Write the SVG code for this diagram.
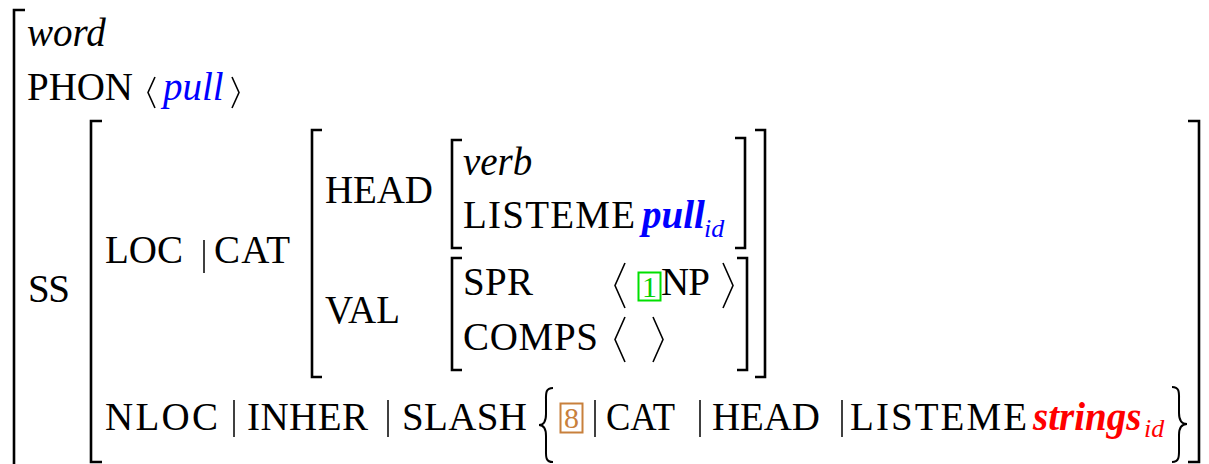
<svg xmlns="http://www.w3.org/2000/svg" width="1209" height="464" viewBox="0 0 1209 464" font-family="'Liberation Serif', Tinos, 'Times New Roman', 'Nimbus Roman', 'Noto Serif', 'DejaVu Serif', serif">
  <style>
    .t { font-family: "Liberation Serif", Tinos, "Times New Roman", "Nimbus Roman", "Noto Serif", "DejaVu Serif", serif; font-size: 39px; fill: #000; }
    .it { font-style: italic; }
    .bi { font-style: italic; font-weight: bold; }
    .sub { font-family: "Liberation Serif", Tinos, "Times New Roman", "DejaVu Serif", serif; font-style: italic; font-size: 26px; }
    .tag { font-family: "Liberation Serif", Tinos, "Times New Roman", "DejaVu Serif", serif; font-size: 30px; text-anchor: middle; }
    .blue { fill: #0000ff; }
    .red { fill: #ff0000; }
    .br { fill: none; stroke: #000; stroke-width: 2.6; }
    .dl { fill: none; stroke: #000; stroke-width: 1.6; }
    .brace { fill: none; stroke: #000; stroke-width: 2; }
    .bar { stroke: #000; stroke-width: 1.5; }
  </style>
  <rect width="1209" height="464" fill="#fff"/>

  <!-- square brackets of the feature structure -->
  <g id="brackets">
    <path class="br" d="M25,10 H14 V470"/>
    <path class="br" d="M102,121 H91 V462 H102"/>
    <path class="br" d="M1188,121 H1199 V462 H1188"/>
    <path class="br" d="M322,130 H312 V377 H322"/>
    <path class="br" d="M755,130 H765 V377 H755"/>
    <path class="br" d="M462,140 H452 V248 H462"/>
    <path class="br" d="M735,138 H745 V248 H735"/>
    <path class="br" d="M462,258 H452 V370 H462"/>
    <path class="br" d="M737,258 H747 V370 H737"/>
  </g>

  <!-- word type and PHON -->
  <g id="word">
    <text class="t it" x="27" y="46">word</text>
    <text class="t" x="27" y="100" textLength="106" lengthAdjust="spacing">PHON</text>
    <polyline class="dl" points="155,77 148,92.5 155,108"/>
    <text class="t it blue" x="163" y="100">pull</text>
    <polyline class="dl" points="232,77 239,92.5 232,108"/>
  </g>

  <!-- SYNSEM -->
  <g id="ss">
    <text class="t" x="28" y="302" textLength="42" lengthAdjust="spacing">SS</text>
  </g>

  <!-- LOCAL | CAT -->
  <g id="loc-cat">
    <text class="t" x="105" y="263" textLength="78" lengthAdjust="spacing">LOC</text>
    <line class="bar" x1="204" y1="240" x2="204" y2="273"/>
    <text class="t" x="214" y="263" textLength="76" lengthAdjust="spacing">CAT</text>
  </g>

  <!-- HEAD value -->
  <g id="head">
    <text class="t" x="325" y="203" textLength="108" lengthAdjust="spacing">HEAD</text>
    <text class="t it" x="463" y="175">verb</text>
    <text class="t" x="463" y="228" textLength="172" lengthAdjust="spacing">LISTEME</text>
    <text class="t bi blue" x="642" y="228">pull</text>
    <text class="sub blue" x="704" y="237">id</text>
  </g>

  <!-- VAL value -->
  <g id="val">
    <text class="t" x="325" y="323" textLength="75" lengthAdjust="spacingAndGlyphs">VAL</text>
    <text class="t" x="463" y="295" textLength="70" lengthAdjust="spacing">SPR</text>
    <polyline class="dl" points="625,263 615,285.5 625,308"/>
    <rect x="638.5" y="272.5" width="22" height="28" fill="none" stroke="#00e000" stroke-width="2"/>
    <text class="tag" x="649.5" y="297" fill="#00d000">1</text>
    <text class="t" x="661" y="295" textLength="49" lengthAdjust="spacing">NP</text>
    <polyline class="dl" points="723,263 733,285.5 723,308"/>
    <text class="t" x="463" y="350" textLength="135" lengthAdjust="spacing">COMPS</text>
    <polyline class="dl" points="625,317 615,339.5 625,362"/>
    <polyline class="dl" points="653,317 663,339.5 653,362"/>
  </g>

  <!-- NONLOCAL | INHER | SLASH -->
  <g id="nloc">
    <text class="t" x="105" y="430" textLength="113" lengthAdjust="spacing">NLOC</text>
    <line class="bar" x1="234" y1="400" x2="234" y2="437"/>
    <text class="t" x="247" y="430" textLength="121" lengthAdjust="spacing">INHER</text>
    <line class="bar" x1="388" y1="400" x2="388" y2="437"/>
    <text class="t" x="402" y="430" textLength="125" lengthAdjust="spacing">SLASH</text>
    <path class="brace" d="M553,388 C545,388 546,394 546,402 L546,414 C546,421 544,425 539,425 C544,425 546,429 546,436 L546,448 C546,456 545,462 553,462"/>
    <rect x="560.5" y="403.5" width="22" height="29" fill="none" stroke="#c8803c" stroke-width="2"/>
    <text class="tag" x="571.5" y="428" fill="#c8803c">8</text>
    <line class="bar" x1="595" y1="400" x2="595" y2="437"/>
    <text class="t" x="606" y="430" textLength="69" lengthAdjust="spacingAndGlyphs">CAT</text>
    <line class="bar" x1="700" y1="400" x2="700" y2="437"/>
    <text class="t" x="712" y="430" textLength="108" lengthAdjust="spacing">HEAD</text>
    <line class="bar" x1="842" y1="400" x2="842" y2="437"/>
    <text class="t" x="850" y="430" textLength="177" lengthAdjust="spacing">LISTEME</text>
    <text class="t bi red" x="1033" y="430">strings</text>
    <text class="sub red" x="1144" y="437">id</text>
    <path class="brace" d="M1172,387 C1180,387 1179,393 1179,401 L1179,413 C1179,420 1181,424 1187,424 C1181,424 1179,428 1179,435 L1179,447 C1179,455 1180,462 1172,462"/>
  </g>
</svg>
